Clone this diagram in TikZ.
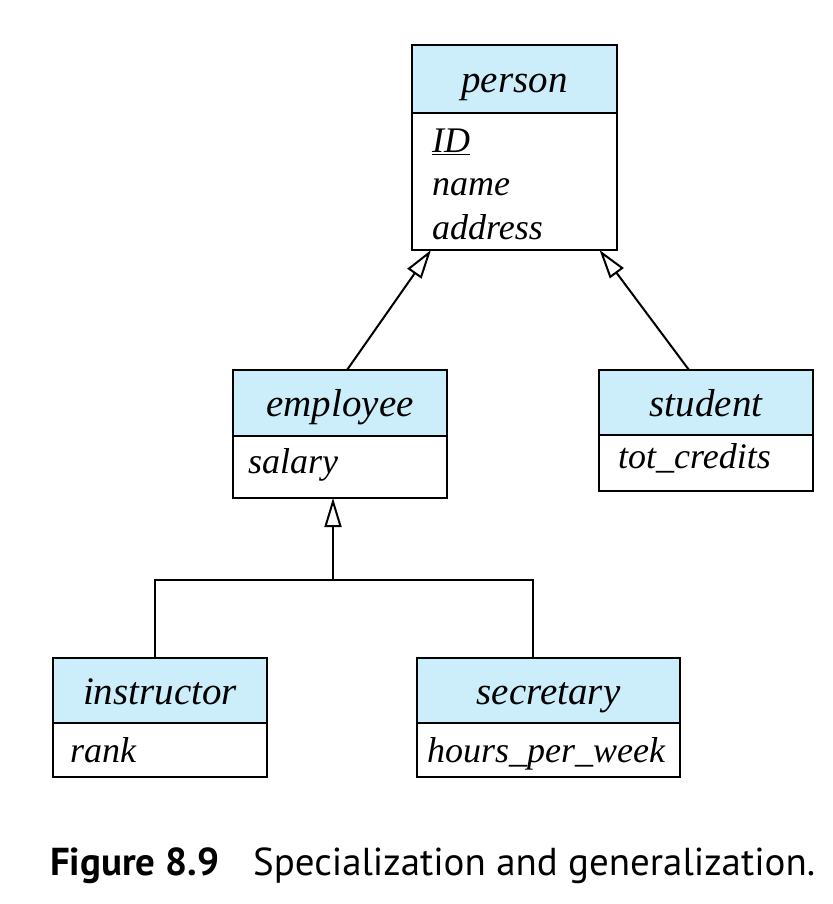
\documentclass[tikz,border=0pt]{standalone}
\usepackage{fontspec}
\usepackage{graphicx}
\setmainfont{Liberation Serif}
\newfontfamily\capfont{PT Sans}
\usetikzlibrary{arrows.meta}
\definecolor{hdr}{RGB}{204,238,250}
\begin{document}
\begin{tikzpicture}[x=1pt,y=-1pt,
  box/.style={draw,line width=2pt,inner sep=0,outer sep=0,anchor=north west},
  hdrbox/.style={box,fill=hdr},
  hdrtxt/.style={font=\fontsize{39}{39}\selectfont\itshape,anchor=base,inner sep=0},
  attrtxt/.style={font=\fontsize{36}{36}\selectfont\itshape,anchor=base west,inner sep=0},
  conn/.style={line width=2pt},
  isa/.style={conn,-{Triangle[open,length=29pt,width=17pt,fill=white]}}
]
\useasboundingbox (0,0) rectangle (832,904);

% person
\node[hdrbox,minimum width=205pt,minimum height=68pt] (personH) at (412,45) {};
\node[box,minimum width=205pt,minimum height=137pt] (personA) at (412,113) {};
\node[hdrtxt] (personT) at (514.5,93) {person};
\node[attrtxt] (personID) at (432,153) {\underline{ID}};
\node[attrtxt] (personName) at (432,196) {name};
\node[attrtxt] (personAddr) at (432,239) {address};

% employee
\node[hdrbox,minimum width=214pt,minimum height=66pt] (empH) at (233,370) {};
\node[box,minimum width=214pt,minimum height=62pt] (empA) at (233,436) {};
\node[hdrtxt] (empT) at (340,416) {employee};
\node[attrtxt] (empSal) at (248,473) {salary};

% student
\node[hdrbox,minimum width=214pt,minimum height=65pt] (stuH) at (599,370) {};
\node[box,minimum width=214pt,minimum height=56pt] (stuA) at (599,435) {};
\node[hdrtxt] (stuT) at (706,416) {student};
\node[attrtxt] (stuCred) at (618,468) {tot\_credits};

% instructor
\node[hdrbox,minimum width=214pt,minimum height=65pt] (instH) at (53,658) {};
\node[box,minimum width=214pt,minimum height=54pt] (instA) at (53,723) {};
\node[hdrtxt] (instT) at (160,704) {instructor};
\node[attrtxt] (instRank) at (70,762) {rank};

% secretary
\node[hdrbox,minimum width=263pt,minimum height=65pt] (secH) at (417,658) {};
\node[box,minimum width=263pt,minimum height=54pt] (secA) at (417,723) {};
\node[hdrtxt] (secT) at (548.5,704) {secretary};
\node[attrtxt] (secHours) at (427,762) {hours\_per\_week};

% connectors
\draw[isa] ([xshift=7pt]empH.north) -- ([xshift=-83.5pt]personA.south);
\draw[isa] ([xshift=-17pt]stuH.north) -- ([xshift=85pt]personA.south);
\coordinate (hub) at (333,580);
\draw[conn] ([xshift=-5pt]instH.north) |- (hub) -| ([xshift=-15.5pt]secH.north);
\draw[isa] (hub) -- (empA.south -| hub);

% caption
\node[anchor=base west,inner sep=0] (cap) at (50,875)
  {\resizebox{765pt}{!}{\capfont\fontsize{38}{38}\selectfont\textbf{Figure 8.9}\hspace{33pt}Specialization and generalization.}};
\end{tikzpicture}
\end{document}
